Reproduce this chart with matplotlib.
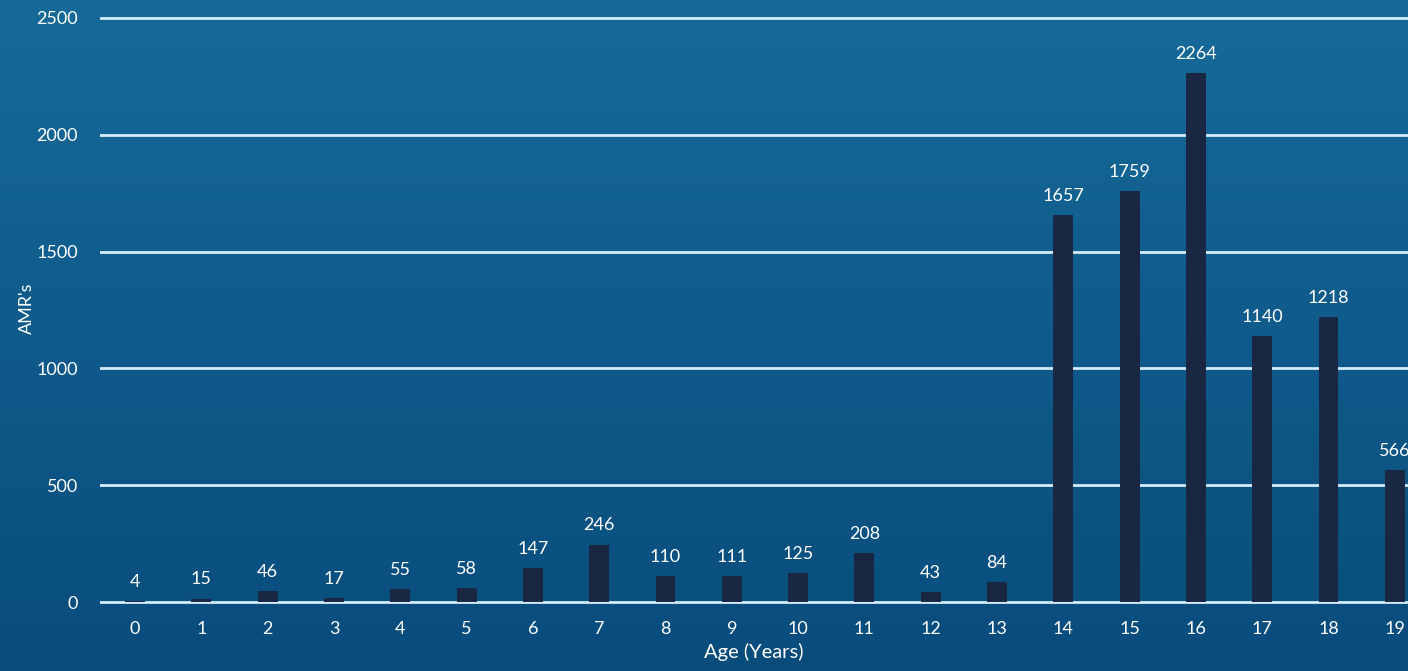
import matplotlib.pyplot as plt
import numpy as np

ages = list(range(20))
amrs = [4, 15, 46, 17, 55, 58, 147, 246, 110, 111, 125, 208, 43, 84,
        1657, 1759, 2264, 1140, 1218, 566]
yticks = [0, 500, 1000, 1500, 2000, 2500]

plt.rcParams['font.family'] = ['Lato', 'DejaVu Sans']

fig = plt.figure(figsize=(14.08, 6.71), dpi=100)

# blue gradient background
bg = fig.add_axes([0, 0, 1, 1], zorder=-1)
top = np.array([22, 106, 154]) / 255
bottom = np.array([8, 76, 124]) / 255
t = np.linspace(0, 1, 256)[:, None]
grad = top * (1 - t) + bottom * t
bg.imshow(grad[:, None, :].repeat(2, axis=1), aspect='auto', extent=[0, 1, 0, 1])
bg.axis('off')

ax = fig.add_axes([100 / 1408, 65 / 671, 1 - 100 / 1408, 596 / 671])
ax.patch.set_alpha(0)

ax.bar(ages, amrs, width=0.3, color='#1a2742', zorder=3)
for x, v in zip(ages, amrs):
    ax.annotate(str(v), (x, v), xytext=(0, 8), textcoords='offset points',
                ha='center', va='bottom', color='white', fontsize=13)

ax.set_xlim(-0.53, 19.2)
ax.set_ylim(-17, 2534)
ax.set_yticks(yticks)
ax.set_xticks(ages)
ax.yaxis.grid(True, color='#d4ecf7', linewidth=2.0, zorder=1)
ax.set_axisbelow(True)
for s in ax.spines.values():
    s.set_visible(False)
ax.tick_params(axis='both', length=0, colors='white', labelsize=13)
ax.tick_params(axis='y', pad=16)
ax.tick_params(axis='x', pad=11)

ax.set_xlabel('Age (Years)', color='white', fontsize=14.5, labelpad=4)
ax.set_ylabel("AMR's", color='white', fontsize=13, labelpad=1)

fig.savefig('out.png', dpi=100)
